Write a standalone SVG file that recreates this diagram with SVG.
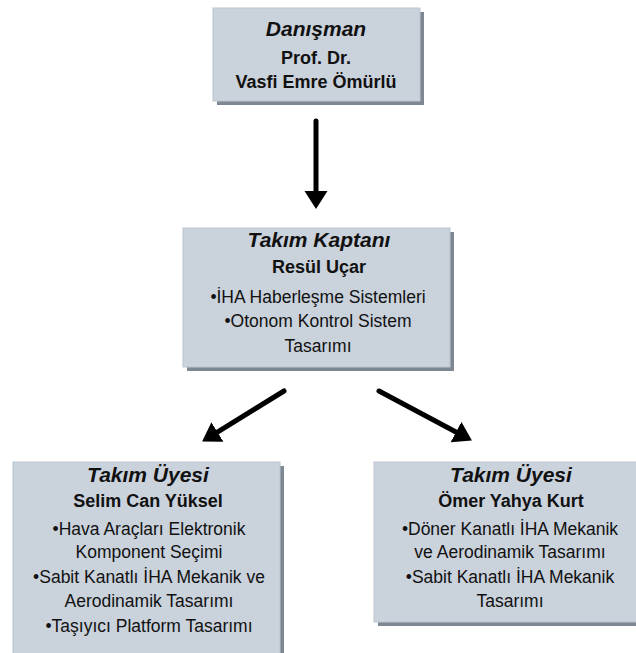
<svg xmlns="http://www.w3.org/2000/svg" width="636" height="653" viewBox="0 0 636 653">
<defs>
<style>
.shadow{fill:#7e8893;}
.face{fill:#cad2dc;stroke:#bcc5cf;stroke-width:1;}
text{font-family:"Liberation Sans",Arial,sans-serif;fill:#111;text-anchor:middle;}
.t{font-size:21px;font-weight:bold;font-style:italic;}
.n{font-size:18px;font-weight:bold;}
.b{font-size:17.5px;}
.arrow{stroke:#000;stroke-width:5;stroke-linecap:round;fill:none;marker-end:url(#head);}
</style>
<marker id="head" markerUnits="userSpaceOnUse" viewBox="0 -12 20 24" refX="1" refY="0" markerWidth="20" markerHeight="24" orient="auto">
<path d="M0,-11.5 L18,0 L0,11.5 z" fill="#000"/>
</marker>
</defs>
<rect width="636" height="653" fill="#fff"/>
<g id="connectors">
<line class="arrow" x1="316" y1="121" x2="316" y2="192"/>
<line class="arrow" x1="284" y1="391" x2="216.6" y2="432.6"/>
<line class="arrow" x1="379" y1="391" x2="456.9" y2="432.5"/>
</g>
<g id="danisman">
<rect class="shadow" x="217" y="12" width="207" height="93"/>
<rect class="face" x="213" y="8" width="207" height="93"/>
<text class="t" x="316" y="36">Danışman</text>
<text class="n" x="316" y="64">Prof. Dr.</text>
<text class="n" x="316" y="88">Vasfi Emre Ömürlü</text>
</g>
<g id="kaptan">
<rect class="shadow" x="187" y="232" width="267" height="139"/>
<rect class="face" x="183" y="228" width="267" height="139"/>
<text class="t" x="319" y="247">Takım Kaptanı</text>
<text class="n" x="319" y="273">Resül Uçar</text>
<text class="b" x="318" y="303">•İHA Haberleşme Sistemleri</text>
<text class="b" x="318" y="327">•Otonom Kontrol Sistem</text>
<text class="b" x="318" y="352">Tasarımı</text>
</g>
<g id="uye1">
<rect class="shadow" x="17" y="466" width="267" height="200"/>
<rect class="face" x="13" y="462" width="267" height="200"/>
<text class="t" x="148" y="482">Takım Üyesi</text>
<text class="n" x="148" y="507">Selim Can Yüksel</text>
<text class="b" x="149" y="535">•Hava Araçları Elektronik</text>
<text class="b" x="149" y="558">Komponent Seçimi</text>
<text class="b" x="149" y="583">•Sabit Kanatlı İHA Mekanik ve</text>
<text class="b" x="149" y="607">Aerodinamik Tasarımı</text>
<text class="b" x="149" y="632">•Taşıyıcı Platform Tasarımı</text>
</g>
<g id="uye2">
<rect class="shadow" x="378" y="466" width="280" height="160"/>
<rect class="face" x="374" y="462" width="280" height="160"/>
<text class="t" x="511" y="482">Takım Üyesi</text>
<text class="n" x="511" y="507">Ömer Yahya Kurt</text>
<text class="b" x="510" y="535">•Döner Kanatlı İHA Mekanik</text>
<text class="b" x="510" y="558">ve Aerodinamik Tasarımı</text>
<text class="b" x="510" y="583">•Sabit Kanatlı İHA Mekanik</text>
<text class="b" x="510" y="607">Tasarımı</text>
</g>
</svg>
